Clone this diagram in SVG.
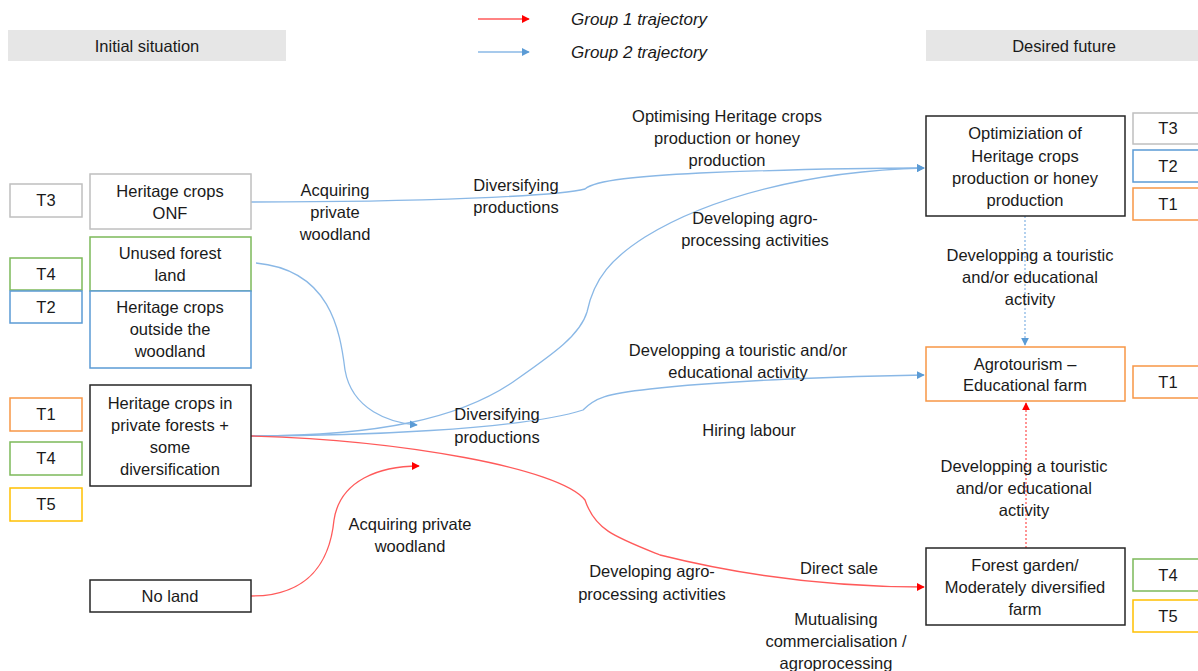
<svg xmlns="http://www.w3.org/2000/svg" width="1198" height="671" viewBox="0 0 1198 671">
<defs>
<marker id="ab" viewBox="0 0 10 10" refX="9" refY="5" markerWidth="8" markerHeight="8" markerUnits="userSpaceOnUse" orient="auto"><path d="M0,0 L10,5 L0,10 z" fill="#5b9bd5"/></marker>
<marker id="ar" viewBox="0 0 10 10" refX="9" refY="5" markerWidth="8" markerHeight="8" markerUnits="userSpaceOnUse" orient="auto"><path d="M0,0 L10,5 L0,10 z" fill="#ff0000"/></marker>
<style>
text{font-family:"Liberation Sans",Arial,sans-serif;font-size:16.5px;fill:#1a1a1a;text-anchor:middle}
.hdr{fill:#e6e6e6;stroke:none}
.box{fill:#fff;stroke-width:1.5}
.k{stroke:#262626}.g{stroke:#bfbfbf}.gr{stroke:#7cb95a}.bl{stroke:#5b9bd5}.or{stroke:#f79646}.ye{stroke:#ffc000}
.cb{fill:none;stroke:#8ab8e6;stroke-width:1.3}
.cr{fill:none;stroke:#ff5a5a;stroke-width:1.3}
.it{font-style:italic;text-anchor:start;font-size:17px}
</style>
</defs>

<g id="headers">
<rect class="hdr" x="8" y="30" width="278" height="31"/>
<text x="147" y="52">Initial situation</text>
<rect class="hdr" x="926" y="30" width="272" height="31"/>
<text x="1064" y="52">Desired future</text>
</g>

<g id="legend">
<line class="cr" x1="478" y1="19" x2="529" y2="19" marker-end="url(#ar)"/>
<text class="it" x="571" y="25">Group 1 trajectory</text>
<line class="cb" x1="478" y1="52" x2="529" y2="52" marker-end="url(#ab)"/>
<text class="it" x="571" y="58">Group 2 trajectory</text>
</g>

<g id="connectors">
<path class="cb" d="M251,202 C420,202 560,196 585,189 C595,180 640,176 700,173 C800,169 880,168 924,168" marker-end="url(#ab)"/>
<path class="cb" d="M251,436 C380,436 460,418 513,382 C550,356 580,336 587,312 C594,278 612,258 645,237 C710,197 810,171 924,168" marker-end="url(#ab)"/>
<path class="cb" d="M251,436 C350,436 520,430 583,410 C595,398 605,394 650,389 C730,380 850,376 924,375" marker-end="url(#ab)"/>
<path class="cb" d="M256,263 C330,270 340,330 345,370 C352,410 390,423 417,425" marker-end="url(#ab)"/>
<path class="cr" d="M251,436 C400,440 560,468 585,500 C595,530 615,537 660,555 C760,580 850,587 924,587" marker-end="url(#ar)"/>
<path class="cr" d="M251,596 C310,596 330,560 334,520 C340,480 380,466 419,466" marker-end="url(#ar)"/>
<path class="cb" d="M1025,216 L1025,345" stroke-dasharray="2,2" marker-end="url(#ab)"/>
<path class="cr" d="M1026,548 L1026,403" stroke-dasharray="2,2" marker-end="url(#ar)"/>
</g>

<g id="n-onf">
<rect class="box g" x="10" y="184" width="72" height="33"/><text x="46" y="206">T3</text>
<rect class="box g" x="90" y="174" width="161" height="55"/>
<text x="170" y="197">Heritage crops</text><text x="170" y="219">ONF</text>
</g>
<g id="n-unused">
<rect class="box gr" x="10" y="258" width="72" height="32"/><text x="46" y="280">T4</text>
<rect class="box gr" x="90" y="237" width="161" height="54"/>
<text x="170" y="259">Unused forest</text><text x="170" y="281">land</text>
</g>
<g id="n-outside">
<rect class="box bl" x="10" y="291" width="72" height="32"/><text x="46" y="313">T2</text>
<rect class="box bl" x="90" y="291" width="161" height="77"/>
<text x="170" y="313">Heritage crops</text><text x="170" y="335">outside the</text><text x="170" y="357">woodland</text>
</g>
<g id="n-private">
<rect class="box or" x="10" y="398" width="72" height="33"/><text x="46" y="420">T1</text>
<rect class="box gr" x="10" y="442" width="72" height="33"/><text x="46" y="464">T4</text>
<rect class="box ye" x="10" y="488" width="72" height="33"/><text x="46" y="510">T5</text>
<rect class="box k" x="90" y="385" width="161" height="101"/>
<text x="170" y="409">Heritage crops in</text><text x="170" y="431">private forests +</text><text x="170" y="453">some</text><text x="170" y="475">diversification</text>
</g>
<g id="n-noland">
<rect class="box k" x="90" y="580" width="161" height="32"/>
<text x="170" y="602">No land</text>
</g>

<g id="n-optim">
<rect class="box k" x="926" y="116" width="199" height="100"/>
<text x="1025" y="139">Optimiziation of</text><text x="1025" y="162">Heritage crops</text><text x="1025" y="184">production or honey</text><text x="1025" y="206">production</text>
<rect class="box g" x="1133" y="113" width="70" height="31"/><text x="1168" y="134">T3</text>
<rect class="box bl" x="1133" y="150" width="70" height="32"/><text x="1168" y="172">T2</text>
<rect class="box or" x="1133" y="188" width="70" height="32"/><text x="1168" y="210">T1</text>
</g>
<g id="n-agro">
<rect class="box or" x="926" y="347" width="199" height="54"/>
<text x="1025" y="370">Agrotourism –</text><text x="1025" y="391">Educational farm</text>
<rect class="box or" x="1133" y="366" width="70" height="32"/><text x="1168" y="388">T1</text>
</g>
<g id="n-garden">
<rect class="box k" x="926" y="548" width="199" height="77"/>
<text x="1025" y="571">Forest garden/</text><text x="1025" y="593">Moderately diversified</text><text x="1025" y="615">farm</text>
<rect class="box gr" x="1133" y="559" width="70" height="32"/><text x="1168" y="581">T4</text>
<rect class="box ye" x="1133" y="600" width="70" height="32"/><text x="1168" y="622">T5</text>
</g>

<g id="labels">
<text x="335" y="196">Acquiring</text><text x="335" y="218">private</text><text x="335" y="240">woodland</text>
<text x="516" y="191">Diversifying</text><text x="516" y="213">productions</text>
<text x="727" y="122">Optimising Heritage crops</text><text x="727" y="144">production or honey</text><text x="727" y="166">production</text>
<text x="755" y="224">Developing agro-</text><text x="755" y="246">processing activities</text>
<text x="738" y="356">Developping a touristic and/or</text><text x="738" y="378">educational activity</text>
<text x="497" y="420">Diversifying</text><text x="497" y="443">productions</text>
<text x="749" y="436">Hiring labour</text>
<text x="410" y="530">Acquiring private</text><text x="410" y="552">woodland</text>
<text x="652" y="577">Developing agro-</text><text x="652" y="600">processing activities</text>
<text x="839" y="574">Direct sale</text>
<text x="836" y="625">Mutualising</text><text x="836" y="647">commercialisation /</text><text x="836" y="669">agroprocessing</text>
<text x="1030" y="261">Developping a touristic</text><text x="1030" y="283">and/or educational</text><text x="1030" y="305">activity</text>
<text x="1024" y="472">Developping a touristic</text><text x="1024" y="494">and/or educational</text><text x="1024" y="516">activity</text>
</g>
</svg>
